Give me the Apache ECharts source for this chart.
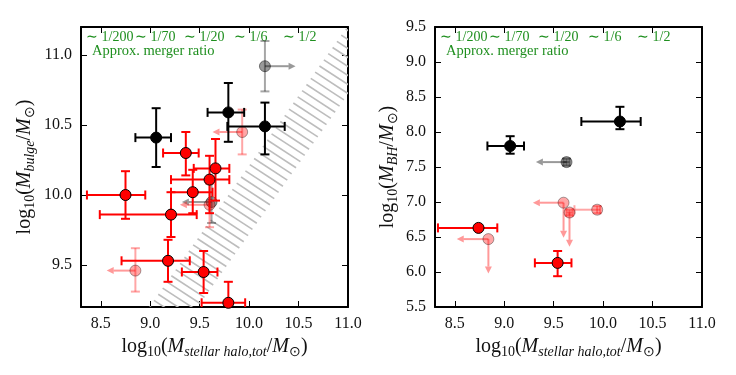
<!DOCTYPE html>
<html>
<head>
<meta charset="UTF-8">
<title>merger ratio</title>
<script src="https://cdn.jsdelivr.net/npm/echarts@6/dist/echarts.min.js"></script>
<style>
  body { margin: 0; background: #fff; }
  #main { width: 736px; height: 375px; }
</style>
</head>
<body>
<div id="main"></div>
<script>
// tick labels
var xTicks = [8.5, 9.0, 9.5, 10.0, 10.5, 11.0];
var bulgeTicks = [9.5, 10.0, 10.5, 11.0];
var bhTicks = [5.5, 6.0, 6.5, 7.0, 7.5, 8.0, 8.5, 9.0, 9.5];
var ratioLabels = ['\u223c 1/200', '\u223c 1/70', '\u223c 1/20', '\u223c 1/6', '\u223c 1/2'];

// hatched band edges: y = x + offset
var bandOffsets = [[0.21, -0.28]];

// left panel: [x, y, xlo, xhi, ylo, yhi]
var bulgeBlack = [
  [9.06, 10.41, 8.85, 9.21, 10.20, 10.62],
  [9.79, 10.59, 9.58, 9.95, 10.38, 10.80],
  [10.16, 10.49, 9.78, 10.36, 10.29, 10.66]
];
var bulgeRed = [
  [9.36, 10.30, 9.13, 9.49, 10.14, 10.45],
  [9.66, 10.19, 9.44, 9.80, 9.96, 10.40],
  [9.60, 10.11, 9.21, 9.80, 9.87, 10.28],
  [9.43, 10.02, 9.21, 9.63, 9.87, 10.18],
  [8.75, 10.00, 8.36, 8.95, 9.83, 10.17],
  [9.21, 9.86, 8.49, 9.47, 9.70, 10.02],
  [9.18, 9.53, 8.71, 9.40, 9.38, 9.68],
  [9.54, 9.45, 9.32, 9.68, 9.30, 9.60],
  [9.79, 9.23, 9.52, 9.96, 9.08, 9.38]
];
var bulgeGray = [
  [10.16, 10.92, 10.16, 10.16, 10.74, 11.10],
  [9.62, 9.95, 9.62, 9.62, 9.80, 10.10]
];
var bulgePink = [
  [9.93, 10.45, 9.93, 9.93, 10.29, 10.61],
  [9.60, 9.93, 9.60, 9.60, 9.77, 10.08],
  [8.85, 9.46, 8.85, 8.85, 9.31, 9.62]
];
// limit arrows: [x, y, xEnd, yEnd]
var bulgeGrayArrows = [[10.16, 10.92, 10.47, 10.92], [9.62, 9.95, 9.32, 9.95]];
var bulgePinkArrows = [[9.93, 10.45, 9.63, 10.45], [9.60, 9.93, 9.30, 9.93], [8.85, 9.46, 8.56, 9.46]];

// right panel
var bhBlack = [
  [9.06, 7.80, 8.83, 9.20, 7.69, 7.94],
  [10.17, 8.15, 9.78, 10.38, 8.04, 8.36]
];
var bhRed = [
  [8.74, 6.63, 8.33, 8.93, 6.61, 6.65],
  [9.54, 6.13, 9.31, 9.68, 5.94, 6.30]
];
var bhGray = [[9.63, 7.57, 9.60, 9.66, 7.52, 7.62]];
var bhPink = [
  [8.84, 6.47, 8.84, 8.84, 6.47, 6.47],
  [9.60, 6.99, 9.60, 9.60, 6.99, 6.99],
  [9.66, 6.85, 9.63, 9.69, 6.81, 6.89],
  [9.94, 6.89, 9.71, 9.97, 6.84, 6.94]
];
var bhGrayArrows = [[9.63, 7.57, 9.32, 7.57]];
var bhPinkArrows = [
  [8.84, 6.47, 8.52, 6.47], [8.84, 6.47, 8.84, 5.98],
  [9.60, 6.99, 9.29, 6.99], [9.60, 6.99, 9.60, 6.49],
  [9.66, 6.85, 9.66, 6.36]
];

var FONT = 'Liberation Serif';
var GREEN = '#1f8f1f';

var myChart = echarts.init(document.getElementById('main'));

function errSeries(data, color, idx, z) {
  return {
    type: 'custom', xAxisIndex: idx * 2, yAxisIndex: idx * 2, clip: true, silent: true, z: z,
    encode: { x: 0, y: 1 },
    data: data,
    renderItem: function (params, api) {
      var x = api.value(0), y = api.value(1), h = 4.5;
      var st = { stroke: color, lineWidth: 2 };
      var kids = [];
      var a = api.coord([api.value(2), y]), b = api.coord([api.value(3), y]);
      if (Math.abs(b[0] - a[0]) > 1) {
        kids.push({ type: 'line', shape: { x1: a[0], y1: a[1], x2: b[0], y2: b[1] }, style: st });
        kids.push({ type: 'line', shape: { x1: a[0], y1: a[1] - h, x2: a[0], y2: a[1] + h }, style: st });
        kids.push({ type: 'line', shape: { x1: b[0], y1: b[1] - h, x2: b[0], y2: b[1] + h }, style: st });
      }
      var t = api.coord([x, api.value(5)]), d = api.coord([x, api.value(4)]);
      if (Math.abs(d[1] - t[1]) > 1) {
        kids.push({ type: 'line', shape: { x1: t[0], y1: t[1], x2: d[0], y2: d[1] }, style: st });
        kids.push({ type: 'line', shape: { x1: t[0] - h, y1: t[1], x2: t[0] + h, y2: t[1] }, style: st });
        kids.push({ type: 'line', shape: { x1: d[0] - h, y1: d[1], x2: d[0] + h, y2: d[1] }, style: st });
      }
      return { type: 'group', children: kids };
    }
  };
}

function arrowSeries(data, color, idx, z) {
  return {
    type: 'custom', xAxisIndex: idx * 2, yAxisIndex: idx * 2, clip: true, silent: true, z: z,
    encode: { x: 0, y: 1 },
    data: data,
    renderItem: function (params, api) {
      var p = api.coord([api.value(0), api.value(1)]);
      var q = api.coord([api.value(2), api.value(3)]);
      var dx = q[0] - p[0], dy = q[1] - p[1];
      var len = Math.sqrt(dx * dx + dy * dy);
      var ux = dx / len, uy = dy / len, hl = 7, hw = 3.5;
      var bx = q[0] - ux * hl, by = q[1] - uy * hl;
      return {
        type: 'group',
        children: [
          { type: 'line', shape: { x1: p[0], y1: p[1], x2: bx, y2: by }, style: { stroke: color, lineWidth: 2 } },
          { type: 'polygon', shape: { points: [[q[0], q[1]], [bx - uy * hw, by + ux * hw], [bx + uy * hw, by - ux * hw]] },
            style: { fill: color } }
        ]
      };
    }
  };
}

function dotSeries(data, fill, edge, idx, z) {
  return {
    type: 'scatter', xAxisIndex: idx * 2, yAxisIndex: idx * 2, silent: true, z: z,
    symbol: 'circle', symbolSize: 11,
    data: data.map(function (d) { return [d[0], d[1]]; }),
    itemStyle: { color: fill, borderColor: edge, borderWidth: 1, opacity: 1 }
  };
}

// hatch stripes: screen lines k*px - py = c, clipped to the band
var hatch = {
  type: 'custom', xAxisIndex: 0, yAxisIndex: 0, clip: true, silent: true, z: 1,
  data: bandOffsets,
  renderItem: function (params, api) {
    var cs = params.coordSys, k = 0.65, step = 9;
    var edge = function (b) { return [api.coord([7, 7 + b]), api.coord([12, 12 + b])]; };
    var L = edge(api.value(0)), R = edge(api.value(1));
    var hit = function (E, c) {
      var dx = E[1][0] - E[0][0], dy = E[1][1] - E[0][1];
      var t = (c - k * E[0][0] + E[0][1]) / (k * dx - dy);
      return [E[0][0] + t * dx, E[0][1] + t * dy];
    };
    var kids = [];
    var c0 = k * cs.x - cs.y - cs.height, c1 = k * (cs.x + cs.width) - cs.y;
    for (var c = c0; c <= c1; c += step) {
      var p = hit(L, c), q = hit(R, c);
      kids.push({ type: 'line', shape: { x1: p[0], y1: p[1], x2: q[0], y2: q[1] },
        style: { stroke: '#bdbdbd', lineWidth: 1.6 } });
    }
    return { type: 'group', children: kids };
  }
};

var rich = {
  n: { fontFamily: FONT, fontSize: 20, color: '#111', lineHeight: 25, verticalAlign: 'middle' },
  i: { fontFamily: FONT, fontSize: 20, fontStyle: 'italic', color: '#111', lineHeight: 25, verticalAlign: 'middle' },
  s: { fontFamily: FONT, fontSize: 14, color: '#111', lineHeight: 25, verticalAlign: 'bottom' },
  si: { fontFamily: FONT, fontSize: 14, fontStyle: 'italic', color: '#111', lineHeight: 25, verticalAlign: 'bottom' }
};
var xName = '{n|log}{s|10}{n|(}{i|M}{si|stellar halo,tot}{n|/}{i|M}{s|\u2299}{n|)}';

function xAx(idx, top) {
  return {
    type: 'value', gridIndex: idx, min: 8.3, max: 11.0, position: top ? 'top' : 'bottom',
    axisLine: { show: true, onZero: false, lineStyle: { color: '#000', width: 2 } },
    axisTick: { show: true, inside: true, length: 6, customValues: xTicks, lineStyle: { color: '#000', width: 1 } },
    axisLabel: { show: !top, customValues: xTicks, margin: 9, fontFamily: FONT, fontSize: 16, color: '#111',
      formatter: function (v) { return v.toFixed(1); } },
    splitLine: { show: false },
    name: top ? '' : xName, nameLocation: 'middle', nameGap: 21,
    nameTextStyle: { rich: rich }
  };
}
function yAx(idx, right, min, max, ticks, name, gap) {
  return {
    type: 'value', gridIndex: idx, min: min, max: max, position: right ? 'right' : 'left',
    axisLine: { show: true, onZero: false, lineStyle: { color: '#000', width: 2 } },
    axisTick: { show: true, inside: true, length: 6, customValues: ticks, lineStyle: { color: '#000', width: 1 } },
    axisLabel: { show: !right, customValues: ticks, margin: 9, fontFamily: FONT, fontSize: 16, color: '#111',
      formatter: function (v) { return v.toFixed(1); } },
    splitLine: { show: false },
    name: right ? '' : name, nameLocation: 'middle', nameGap: gap, nameRotate: 90,
    nameTextStyle: { rich: rich }
  };
}

function ratioText(left) {
  var offs = [5, 54, 103, 153, 202];
  var g = ratioLabels.map(function (t, i) {
    return { type: 'text', left: left + offs[i], top: 30,
      style: { text: t, fill: GREEN, font: '14px "' + FONT + '"' } };
  });
  g.push({ type: 'text', left: left + 11, top: 44,
    style: { text: 'Approx. merger ratio', fill: GREEN, font: '14.5px "' + FONT + '"' } });
  return g;
}

var option = {
  animation: false,
  backgroundColor: '#fff',
  grid: [
    { left: 81, top: 27, width: 267, height: 280 },
    { left: 435, top: 27, width: 267, height: 280 }
  ],
  xAxis: [xAx(0, false), xAx(0, true), xAx(1, false), xAx(1, true)],
  yAxis: [
    yAx(0, false, 9.2, 11.2, bulgeTicks, '{n|log}{s|10}{n|(}{i|M}{si|bulge}{n|/}{i|M}{s|\u2299}{n|)}', 44),
    yAx(0, true, 9.2, 11.2, bulgeTicks, '', 0),
    yAx(1, false, 5.5, 9.5, bhTicks, '{n|log}{s|10}{n|(}{i|M}{si|BH}{n|/}{i|M}{s|\u2299}{n|)}', 35),
    yAx(1, true, 5.5, 9.5, bhTicks, '', 0)
  ],
  graphic: ratioText(81).concat(ratioText(435)),
  series: [
    hatch,
    errSeries(bulgeGray, 'rgba(0,0,0,0.35)', 0, 2),
    arrowSeries(bulgeGrayArrows, 'rgba(0,0,0,0.4)', 0, 2),
    dotSeries(bulgeGray, 'rgba(0,0,0,0.4)', 'rgba(0,0,0,0.45)', 0, 3),
    errSeries(bulgePink, 'rgba(255,0,0,0.35)', 0, 2),
    arrowSeries(bulgePinkArrows, 'rgba(255,0,0,0.4)', 0, 2),
    dotSeries(bulgePink, 'rgba(255,0,0,0.35)', 'rgba(0,0,0,0.35)', 0, 3),
    errSeries(bulgeRed, '#ff0000', 0, 4),
    dotSeries(bulgeRed, '#ff0000', '#000', 0, 5),
    errSeries(bulgeBlack, '#000', 0, 6),
    dotSeries(bulgeBlack, '#000', '#000', 0, 7),

    errSeries(bhGray, 'rgba(0,0,0,0.35)', 1, 2),
    arrowSeries(bhGrayArrows, 'rgba(0,0,0,0.4)', 1, 2),
    dotSeries(bhGray, 'rgba(0,0,0,0.4)', 'rgba(0,0,0,0.45)', 1, 3),
    errSeries(bhPink, 'rgba(255,0,0,0.35)', 1, 2),
    arrowSeries(bhPinkArrows, 'rgba(255,0,0,0.4)', 1, 2),
    dotSeries(bhPink, 'rgba(255,0,0,0.35)', 'rgba(0,0,0,0.35)', 1, 3),
    errSeries(bhRed, '#ff0000', 1, 4),
    dotSeries(bhRed, '#ff0000', '#000', 1, 5),
    errSeries(bhBlack, '#000', 1, 6),
    dotSeries(bhBlack, '#000', '#000', 1, 7)
  ]
};
myChart.setOption(option);
</script>
</body>
</html>
